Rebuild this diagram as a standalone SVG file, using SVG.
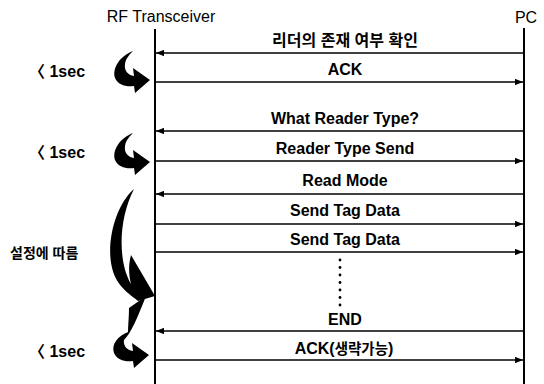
<svg xmlns="http://www.w3.org/2000/svg" width="544" height="384" viewBox="0 0 544 384">
<defs>
<style>
.life{stroke:#000;stroke-width:2;fill:none}
.msg{stroke:#000;stroke-width:1.5;fill:none}
.lbl{font-family:"Liberation Sans","Noto Sans CJK KR",sans-serif;font-weight:bold;font-size:16px;fill:#000;text-anchor:middle}
.ko{font-size:14.5px}
.hdr{font-family:"Liberation Sans",sans-serif;font-size:16px;fill:#000;text-anchor:middle}
.side{font-family:"Liberation Sans","Noto Sans CJK KR",sans-serif;font-weight:bold;font-size:16px;fill:#000}
.hook{fill:#000;stroke:none}
.dot{fill:#000}
</style>
<marker id="ah" viewBox="0 0 10 8" refX="10" refY="4" markerWidth="8" markerHeight="6.4" markerUnits="userSpaceOnUse" orient="auto">
<path d="M0,0 L10,4 L0,8 Z" fill="#000"/>
</marker>
<path id="hk" d="M-17,-29 C-30,-24 -38,-12 -35,-2 C-32,5 -24,7 -16,6 L-15,13 L0,0 L-17,-12 L-16,-4 C-22,-5 -26,-9 -25,-16 C-24,-22 -20,-26 -17,-29 Z"/>
</defs>
<rect width="544" height="384" fill="#fff"/>

<g id="rf">
<text class="hdr" x="161" y="22">RF Transceiver</text>
<line class="life" x1="155" y1="29" x2="155" y2="384"/>
</g>
<g id="pc">
<text class="hdr" x="526" y="23">PC</text>
<line class="life" x1="524" y1="28" x2="524" y2="384"/>
</g>

<g id="connectors">
<line class="msg" x1="524" y1="53" x2="156" y2="53" marker-end="url(#ah)"/>
<line class="msg" x1="155" y1="82" x2="523" y2="82" marker-end="url(#ah)"/>
<line class="msg" x1="524" y1="131" x2="156" y2="131" marker-end="url(#ah)"/>
<line class="msg" x1="155" y1="161" x2="523" y2="161" marker-end="url(#ah)"/>
<line class="msg" x1="524" y1="194" x2="156" y2="194" marker-end="url(#ah)"/>
<line class="msg" x1="155" y1="224" x2="523" y2="224" marker-end="url(#ah)"/>
<line class="msg" x1="155" y1="252" x2="523" y2="252" marker-end="url(#ah)"/>
<line class="msg" x1="524" y1="331" x2="156" y2="331" marker-end="url(#ah)"/>
<line class="msg" x1="155" y1="360" x2="523" y2="360" marker-end="url(#ah)"/>
<g class="dot">
<circle cx="340" cy="260" r="1.4"/><circle cx="340" cy="267.5" r="1.4"/><circle cx="340" cy="275" r="1.4"/><circle cx="340" cy="282.5" r="1.4"/><circle cx="340" cy="290" r="1.4"/><circle cx="340" cy="297.5" r="1.4"/><circle cx="340" cy="305" r="1.4"/>
</g>
</g>

<g id="labels">
<text class="lbl" x="345" y="46" style="font-size:16px">리더의 존재 여부 확인</text>
<text class="lbl" x="345" y="75">ACK</text>
<text class="lbl" x="345" y="124">What Reader Type?</text>
<text class="lbl" x="345" y="154">Reader Type Send</text>
<text class="lbl" x="345" y="186">Read Mode</text>
<text class="lbl" x="345" y="216">Send Tag Data</text>
<text class="lbl" x="345" y="245">Send Tag Data</text>
<text class="lbl" x="345" y="325">END</text>
<text class="lbl" x="344" y="354">ACK(<tspan class="ko">생략가능</tspan>)</text>
</g>

<g id="timing">
<text class="side" x="29" y="77">〈 1sec</text>
<text class="side" x="29" y="158">〈 1sec</text>
<text class="side" x="10" y="258" style="font-size:14px">설정에 따름</text>
<text class="side" x="29" y="357">〈 1sec</text>
<use href="#hk" class="hook" x="150" y="80"/>
<use href="#hk" class="hook" x="150" y="162"/>
<path class="hook" d="M134,189 C112,208 102,258 118,282 C124,291 132,296 138,301 L155,296 L131,255 C128,266 129,276 131,284 C118,262 118,220 134,189 Z"/>
<path class="hook" transform="translate(149,355)" d="M-3,-59 L-20,-47 C-20,-38 -21,-30 -21,-23 C-31,-19 -38,-11 -35,-2 C-32,5 -24,7 -16,6 L-15,13 L0,0 L-17,-12 L-16,-4 C-22,-5 -26,-9 -25,-15 C-18,-22 -12,-36 -3,-59 Z"/>
</g>
</svg>
